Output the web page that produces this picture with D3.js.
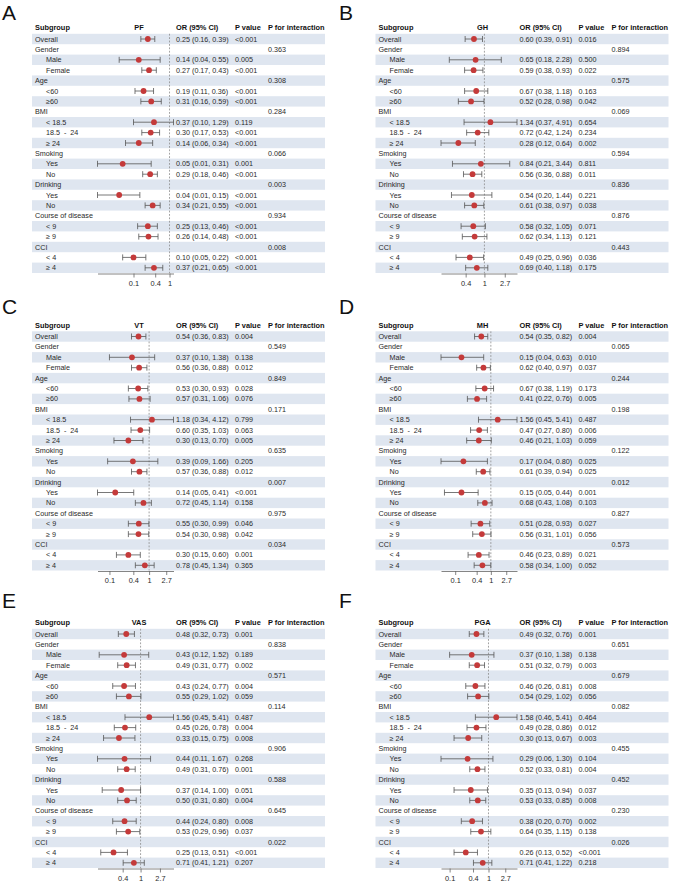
<!DOCTYPE html>
<html>
<head>
<meta charset="utf-8">
<script src="https://cdn.jsdelivr.net/npm/d3@7"></script>
<style>
  body { margin: 0; background: #fff; }
  text { white-space: pre; }
</style>
</head>
<body>
<div id="chart"></div>
<script>
// row labels, "g" = group row (has P for interaction), "d" = data row
var subgroups = ["Overall", "Gender", "Male", "Female", "Age", "<60", "\u226560", "BMI", "< 18.5", "18.5  -  24", "\u2265 24",
  "Smoking", "Yes", "No", "Drinking", "Yes", "No", "Course of disease", "< 9", "\u2265 9", "CCI", "< 4", "\u2265 4"];
var rowKind = ["d", "g", "d", "d", "g", "d", "d", "g", "d", "d", "d", "g", "d", "d", "g", "d", "d", "g", "d", "d", "g", "d", "d"];
var outcomes = ["PF", "GH", "VT", "MH", "VAS", "PGA"];
var letters = ["A", "B", "C", "D", "E", "F"];
var tickVals = [0.1, 0.4, 1, 2.7];

// [OR, lower, upper] for data rows
var estPF = [[0.25,0.16,0.39],[0.14,0.04,0.55],[0.27,0.17,0.43],[0.19,0.11,0.36],[0.31,0.16,0.59],[0.37,0.10,1.29],[0.30,0.17,0.53],[0.14,0.06,0.34],
  [0.05,0.01,0.31],[0.29,0.18,0.46],[0.04,0.01,0.15],[0.34,0.21,0.55],[0.25,0.13,0.46],[0.26,0.14,0.48],[0.10,0.05,0.22],[0.37,0.21,0.65]];
var pPF = ["<0.001","0.005","<0.001","<0.001","<0.001","0.119","<0.001","<0.001","0.001","<0.001","<0.001","<0.001","<0.001","<0.001","<0.001","<0.001"];
var intPF = ["0.363","0.308","0.284","0.066","0.003","0.934","0.008"];

var estGH = [[0.60,0.39,0.91],[0.65,0.18,2.28],[0.59,0.38,0.93],[0.67,0.38,1.18],[0.52,0.28,0.98],[1.34,0.37,4.91],[0.72,0.42,1.24],[0.28,0.12,0.64],
  [0.84,0.21,3.44],[0.56,0.36,0.88],[0.54,0.20,1.44],[0.61,0.38,0.97],[0.58,0.32,1.05],[0.62,0.34,1.13],[0.49,0.25,0.96],[0.69,0.40,1.18]];
var pGH = ["0.016","0.500","0.022","0.163","0.042","0.654","0.234","0.002","0.811","0.011","0.221","0.038","0.071","0.121","0.036","0.175"];
var intGH = ["0.894","0.575","0.069","0.594","0.836","0.876","0.443"];

var estVT = [[0.54,0.36,0.83],[0.37,0.10,1.38],[0.56,0.36,0.88],[0.53,0.30,0.93],[0.57,0.31,1.06],[1.18,0.34,4.12],[0.60,0.35,1.03],[0.30,0.13,0.70],
  [0.39,0.09,1.66],[0.57,0.36,0.88],[0.14,0.05,0.41],[0.72,0.45,1.14],[0.55,0.30,0.99],[0.54,0.30,0.98],[0.30,0.15,0.60],[0.78,0.45,1.34]];
var pVT = ["0.004","0.138","0.012","0.028","0.076","0.799","0.063","0.005","0.205","0.012","<0.001","0.158","0.046","0.042","0.001","0.365"];
var intVT = ["0.549","0.849","0.171","0.635","0.007","0.975","0.034"];

var estMH = [[0.54,0.35,0.82],[0.15,0.04,0.63],[0.62,0.40,0.97],[0.67,0.38,1.19],[0.41,0.22,0.76],[1.56,0.45,5.41],[0.47,0.27,0.80],[0.46,0.21,1.03],
  [0.17,0.04,0.80],[0.61,0.39,0.94],[0.15,0.05,0.44],[0.68,0.43,1.08],[0.51,0.28,0.93],[0.56,0.31,1.01],[0.46,0.23,0.89],[0.58,0.34,1.00]];
var pMH = ["0.004","0.010","0.037","0.173","0.005","0.487","0.006","0.059","0.025","0.025","0.001","0.103","0.027","0.056","0.021","0.052"];
var intMH = ["0.065","0.244","0.198","0.122","0.012","0.827","0.573"];

var estVAS = [[0.48,0.32,0.73],[0.43,0.12,1.52],[0.49,0.31,0.77],[0.43,0.24,0.77],[0.55,0.29,1.02],[1.56,0.45,5.41],[0.45,0.26,0.78],[0.33,0.15,0.75],
  [0.44,0.11,1.67],[0.49,0.31,0.76],[0.37,0.14,1.00],[0.50,0.31,0.80],[0.44,0.24,0.80],[0.53,0.29,0.96],[0.25,0.13,0.51],[0.71,0.41,1.21]];
var pVAS = ["0.001","0.189","0.002","0.004","0.059","0.487","0.004","0.008","0.268","0.001","0.051","0.004","0.008","0.037","<0.001","0.207"];
var intVAS = ["0.838","0.571","0.114","0.906","0.588","0.645","0.022"];

var estPGA = [[0.49,0.32,0.76],[0.37,0.10,1.38],[0.51,0.32,0.79],[0.46,0.26,0.81],[0.54,0.29,1.02],[1.58,0.46,5.41],[0.49,0.28,0.86],[0.30,0.13,0.67],
  [0.29,0.06,1.30],[0.52,0.33,0.81],[0.35,0.13,0.94],[0.53,0.33,0.85],[0.38,0.20,0.70],[0.64,0.35,1.15],[0.26,0.13,0.52],[0.71,0.41,1.22]];
var pPGA = ["0.001","0.138","0.003","0.008","0.056","0.464","0.012","0.003","0.104","0.004","0.037","0.008","0.002","0.138","<0.001","0.218"];
var intPGA = ["0.651","0.679","0.082","0.455","0.452","0.230","0.026"];

var panels = [
  {est: estPF, p: pPF, pint: intPF},
  {est: estGH, p: pGH, pint: intGH},
  {est: estVT, p: pVT, pint: intVT},
  {est: estMH, p: pMH, pint: intMH},
  {est: estVAS, p: pVAS, pint: intVAS},
  {est: estPGA, p: pPGA, pint: intPGA}
];

var width = 673, height = 885;
var colX = [0, 343.5], rowY = [0, 297.5, 595];
var letterY = [20, 314, 608];
var rowH = 10.4, firstRow = 39;
var fontSz = 7.2;
var bandColor = "#dfe6f0", textColor = "#2a2a2a", dotColor = "#c43a3a";

var svg = d3.select("#chart").append("svg")
  .attr("width", width).attr("height", height)
  .style("font-family", "'Liberation Sans', Arial, Helvetica, sans-serif");

var y = d3.scaleBand()
  .domain(d3.range(subgroups.length))
  .range([firstRow - rowH / 2, firstRow - rowH / 2 + rowH * subgroups.length]);
var tableTop = y(0), tableBottom = y(subgroups.length - 1) + y.bandwidth();
var fmt = d3.format(".2f");

panels.forEach(function(pan, k) {
  var ox = colX[k % 2], oy = rowY[Math.floor(k / 2)];

  // letter
  svg.append("text")
    .attr("x", (k % 2) * 337 + 2)
    .attr("y", letterY[Math.floor(k / 2)])
    .style("font-size", "21px")
    .style("fill", "#111")
    .text(letters[k]);

  var g = svg.append("g").attr("transform", "translate(" + ox + "," + oy + ")");

  // assemble rows
  var di = 0, gi = 0;
  var rows = subgroups.map(function(lab, i) {
    if (rowKind[i] == "g") return {i: i, lab: lab, group: true, pint: pan.pint[gi++]};
    var e = pan.est[di], pv = pan.p[di];
    di++;
    return {i: i, lab: lab, group: false, or: e[0], lo: e[1], hi: e[2], p: pv};
  });
  var dataRows = rows.filter(function(r) { return !r.group; });

  var x = d3.scaleLog()
    .domain([d3.min(dataRows, function(r) { return r.lo; }), d3.max(dataRows, function(r) { return r.hi; })])
    .range([97.5, 173.5]);

  // shaded bands
  g.selectAll("rect.band")
    .data(rows.filter(function(r) { return r.i % 2 == 0; }))
    .enter().append("rect")
    .attr("class", "band")
    .attr("x", 32).attr("width", 293)
    .attr("y", function(r) { return y(r.i); })
    .attr("height", y.bandwidth())
    .style("fill", bandColor);

  // header
  var header = [
    {t: "Subgroup", x: 35, a: "start"},
    {t: outcomes[k], x: 139, a: "middle"},
    {t: "OR (95% CI)", x: 176, a: "start"},
    {t: "P value", x: 235, a: "start"},
    {t: "P for interaction", x: 268, a: "start"}
  ];
  g.selectAll("text.head")
    .data(header)
    .enter().append("text")
    .attr("class", "head")
    .attr("x", function(d) { return d.x; })
    .attr("y", 30)
    .attr("text-anchor", function(d) { return d.a; })
    .style("font-size", "7.4px")
    .style("font-weight", "bold")
    .style("fill", "#111")
    .text(function(d) { return d.t; });

  // row labels
  g.selectAll("text.lab")
    .data(rows)
    .enter().append("text")
    .attr("class", "lab")
    .attr("x", function(r) { return (r.group || r.i == 0) ? 35 : 46; })
    .attr("y", function(r) { return y(r.i) + y.bandwidth() / 2; })
    .attr("dy", "0.35em")
    .style("font-size", fontSz + "px")
    .style("fill", textColor)
    .text(function(r) { return r.lab; });

  // OR text and p values
  g.selectAll("text.or")
    .data(dataRows)
    .enter().append("text")
    .attr("class", "or")
    .attr("x", 176)
    .attr("y", function(r) { return y(r.i) + y.bandwidth() / 2; })
    .attr("dy", "0.35em")
    .style("font-size", fontSz + "px")
    .style("fill", textColor)
    .text(function(r) { return fmt(r.or) + " (" + fmt(r.lo) + ", " + fmt(r.hi) + ")"; });

  g.selectAll("text.pv")
    .data(dataRows)
    .enter().append("text")
    .attr("class", "pv")
    .attr("x", 235)
    .attr("y", function(r) { return y(r.i) + y.bandwidth() / 2; })
    .attr("dy", "0.35em")
    .style("font-size", fontSz + "px")
    .style("fill", textColor)
    .text(function(r) { return r.p; });

  g.selectAll("text.pint")
    .data(rows.filter(function(r) { return r.group; }))
    .enter().append("text")
    .attr("class", "pint")
    .attr("x", 268)
    .attr("y", function(r) { return y(r.i) + y.bandwidth() / 2; })
    .attr("dy", "0.35em")
    .style("font-size", fontSz + "px")
    .style("fill", textColor)
    .text(function(r) { return r.pint; });

  // reference line at 1
  g.append("line")
    .attr("x1", x(1)).attr("x2", x(1))
    .attr("y1", tableTop).attr("y2", tableBottom)
    .style("stroke", "#8a8a8a")
    .style("stroke-width", 0.8)
    .style("stroke-dasharray", "1.8,1.6");

  // CIs
  var ci = g.selectAll("g.ci")
    .data(dataRows)
    .enter().append("g")
    .attr("class", "ci")
    .attr("transform", function(r) { return "translate(0," + (y(r.i) + y.bandwidth() / 2) + ")"; });
  ci.append("line")
    .attr("x1", function(r) { return x(r.lo); })
    .attr("x2", function(r) { return x(r.hi); })
    .style("stroke", "#555").style("stroke-width", 0.8);
  ci.append("line")
    .attr("x1", function(r) { return x(r.lo); })
    .attr("x2", function(r) { return x(r.lo); })
    .attr("y1", -3).attr("y2", 3)
    .style("stroke", "#555").style("stroke-width", 0.8);
  ci.append("line")
    .attr("x1", function(r) { return x(r.hi); })
    .attr("x2", function(r) { return x(r.hi); })
    .attr("y1", -3).attr("y2", 3)
    .style("stroke", "#555").style("stroke-width", 0.8);
  ci.append("circle")
    .attr("cx", function(r) { return x(r.or); })
    .attr("r", 2.9)
    .style("fill", dotColor);

  // x axis
  var dom = x.domain();
  var ax = g.append("g")
    .attr("transform", "translate(0," + (tableBottom + 0.5) + ")")
    .call(d3.axisBottom(x)
      .tickValues(tickVals.filter(function(t) { return t >= dom[0] && t <= dom[1]; }))
      .tickFormat(d3.format(""))
      .tickSizeInner(4).tickSizeOuter(0).tickPadding(3));
  ax.select(".domain").style("stroke", "#666").style("stroke-width", 0.8);
  ax.selectAll(".tick line").style("stroke", "#666").style("stroke-width", 0.8);
  ax.selectAll(".tick text")
    .style("font-size", "7.4px")
    .style("font-family", "'Liberation Sans', Arial, Helvetica, sans-serif")
    .style("fill", textColor);
});
</script>
</body>
</html>
